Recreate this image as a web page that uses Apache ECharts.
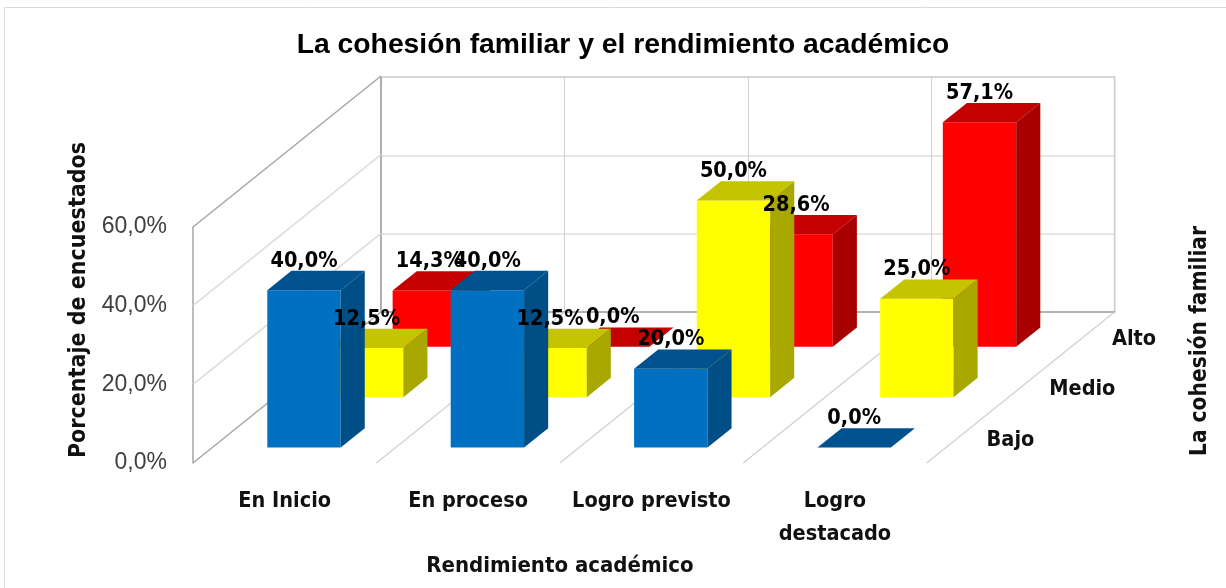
<!DOCTYPE html>
<html>
<head>
<meta charset="utf-8">
<style>
html, body { margin: 0; padding: 0; background: #fff; }
#chart { width: 1226px; height: 588px; }
</style>
<script src="https://cdn.jsdelivr.net/npm/echarts@6/dist/echarts.min.js"></script>
</head>
<body>
<div id="chart"></div>
<script>
var categories = ['En Inicio', 'En proceso', 'Logro previsto', 'Logro\ndestacado'];
var depthLabels = ['Bajo', 'Medio', 'Alto'];
var bajo = [40.0, 40.0, 20.0, 0.0];
var medio = [12.5, 12.5, 50.0, 25.0];
var alto = [14.3, 0.0, 28.6, 57.1];
var yTicks = [0, 20, 40, 60];

// oblique projection of the depth axis, in pixels
var depthX = 188, depthY = 151;
var rowX = depthX / 3, rowY = depthY / 3;
var barDepth = 1 / 2.6;
var boldFont = 'bold 21.5px "DejaVu Sans Condensed"';

function pct(v) {
    return v.toFixed(1).replace('.', ',') + '%';
}

function barSeries(name, values, row, front, top, side) {
    return {
        type: 'custom',
        name: name,
        xAxisIndex: 0,
        yAxisIndex: 0,
        z: 3,
        silent: true,
        data: values.map(function (v, i) { return [i, v]; }),
        renderItem: function (params, api) {
            var base = api.coord([api.value(0), 0]);
            var head = api.coord([api.value(0), api.value(1)]);
            var w = api.size([1, 0])[0] / 2.5;
            var ox = rowX * barDepth, oy = rowY * barDepth;
            var shiftX = row * rowX + (rowX - ox) / 2;
            var shiftY = row * rowY + (rowY - oy) / 2;
            var l = base[0] - w / 2 + shiftX, r = l + w;
            var b = base[1] - shiftY, t = head[1] - shiftY;
            return {
                type: 'group',
                children: [{
                    type: 'polygon',
                    shape: { points: [[l, b], [r, b], [r, t], [l, t]] },
                    style: { fill: front }
                }, {
                    type: 'polygon',
                    shape: { points: [[l, t], [r, t], [r + ox, t - oy], [l + ox, t - oy]] },
                    style: { fill: top }
                }, {
                    type: 'polygon',
                    shape: { points: [[r, b], [r + ox, b - oy], [r + ox, t - oy], [r, t]] },
                    style: { fill: side }
                }, {
                    type: 'text',
                    z2: 100,
                    style: {
                        x: (l + r) / 2,
                        y: t - 29,
                        text: pct(api.value(1)),
                        align: 'center',
                        verticalAlign: 'middle',
                        fill: '#000',
                        font: 'bold 21.5px "DejaVu Sans Condensed"'
                    }
                }]
            };
        }
    };
}

var chart = echarts.init(document.getElementById('chart'));
chart.setOption({
    animation: false,
    backgroundColor: '#fff',
    title: {
        text: 'La cohesión familiar y el rendimiento académico',
        left: 618,
        top: 26,
        textAlign: 'center',
        textStyle: { color: '#000', fontFamily: 'Liberation Sans', fontWeight: 'bold', fontSize: 28.3 }
    },
    grid: [
        { left: 193, top: 227, width: 733.6, height: 236 },
        { left: 381, top: 77, width: 733.6, height: 235, show: true, borderColor: '#b4b4b4', borderWidth: 1.5 }
    ],
    xAxis: [{
        type: 'category',
        gridIndex: 0,
        data: categories,
        axisLine: { show: false },
        axisTick: { show: false },
        axisLabel: {
            interval: 0,
            margin: 22,
            lineHeight: 33,
            color: '#111',
            fontFamily: 'DejaVu Sans Condensed',
            fontWeight: 'bold',
            fontSize: 21.5
        }
    }, {
        type: 'category',
        gridIndex: 1,
        data: categories,
        axisLine: { lineStyle: { color: '#a6a6a6', width: 1.5 } },
        axisTick: { show: false },
        axisLabel: { show: false },
        splitLine: { show: true, lineStyle: { color: '#d0d0d0', width: 1 } }
    }],
    yAxis: [{
        type: 'value',
        gridIndex: 0,
        min: 0,
        max: 60,
        interval: 20,
        axisLine: { show: true, lineStyle: { color: '#a6a6a6', width: 1.5 } },
        axisTick: { show: false },
        splitLine: { show: false },
        axisLabel: {
            margin: 26,
            color: '#404040',
            fontFamily: 'Liberation Sans',
            fontSize: 23,
            formatter: function (v) { return pct(v); }
        }
    }, {
        type: 'value',
        gridIndex: 1,
        min: 0,
        max: 60,
        interval: 20,
        axisLine: { show: true, lineStyle: { color: '#a6a6a6', width: 1.5 } },
        axisTick: { show: false },
        axisLabel: { show: false },
        splitLine: { show: true, lineStyle: { color: '#dcdcdc', width: 1.5 } }
    }],
    graphic: [{
        type: 'rect',
        shape: { x: 4.5, y: 7.5, width: 1400, height: 1000 },
        style: { fill: 'none', stroke: '#d9d9d9', lineWidth: 1 },
        silent: true
    }, {
        type: 'text',
        x: 79, y: 300,
        rotation: Math.PI / 2,
        style: { text: 'Porcentaje de encuestados', align: 'center', verticalAlign: 'middle', fill: '#111', font: 'bold 23px "DejaVu Sans Condensed"' }
    }, {
        type: 'text',
        x: 1200, y: 341,
        rotation: Math.PI / 2,
        style: { text: 'La cohesión familiar', align: 'center', verticalAlign: 'middle', fill: '#111', font: 'bold 22.5px "DejaVu Sans Condensed"' }
    }, {
        type: 'text',
        x: 560, y: 566,
        style: { text: 'Rendimiento académico', align: 'center', verticalAlign: 'middle', fill: '#111', font: 'bold 22px "DejaVu Sans Condensed"' }
    }],
    series: [{
        // side wall and floor lines
        type: 'custom',
        xAxisIndex: 0,
        yAxisIndex: 0,
        z: 1,
        silent: true,
        data: [0],
        renderItem: function (params, api) {
            var band = api.size([1, 0])[0];
            var left = api.coord([0, 0])[0] - band / 2;
            var children = [];
            yTicks.forEach(function (v) {
                var y = api.coord([0, v])[1];
                var edge = v === 0 || v === 60;
                children.push({
                    type: 'line',
                    shape: { x1: left, y1: y, x2: left + depthX, y2: y - depthY },
                    style: { stroke: edge ? '#a6a6a6' : '#dcdcdc', lineWidth: 1.5 }
                });
            });
            categories.forEach(function (c, i) {
                var y = api.coord([0, 0])[1];
                var x = left + band * (i + 1);
                children.push({
                    type: 'line',
                    shape: { x1: x, y1: y, x2: x + depthX, y2: y - depthY },
                    style: { stroke: '#d0d0d0', lineWidth: 1.2 }
                });
            });
            return { type: 'group', children: children };
        }
    },
    barSeries('Alto', alto, 2, '#ff0000', '#c40000', '#a80000'),
    barSeries('Medio', medio, 1, '#ffff00', '#c4c400', '#a8a800'),
    barSeries('Bajo', bajo, 0, '#0070c0', '#00528e', '#004e86'),
    {
        // depth axis labels
        type: 'custom',
        xAxisIndex: 0,
        yAxisIndex: 0,
        z: 4,
        silent: true,
        data: depthLabels.map(function (d, i) { return [i]; }),
        renderItem: function (params, api) {
            var i = api.value(0);
            var p = api.coord([categories.length - 1, 0]);
            var band = api.size([1, 0])[0];
            return {
                type: 'text',
                style: {
                    x: p[0] + band / 2 + 60 + i * rowX,
                    y: p[1] - 23 - i * rowY,
                    text: depthLabels[i],
                    align: 'left',
                    verticalAlign: 'middle',
                    fill: '#111',
                    font: boldFont
                }
            };
        }
    }]
});
</script>
</body>
</html>
